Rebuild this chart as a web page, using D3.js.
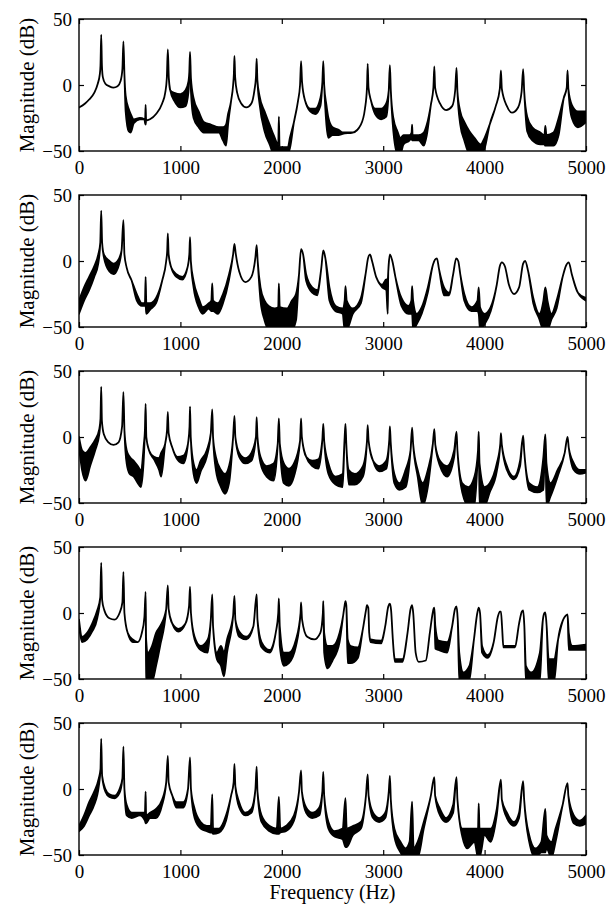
<!DOCTYPE html>
<html>
<head>
<meta charset="utf-8">
<script src="https://cdn.jsdelivr.net/npm/d3@7"></script>
<style>
  body { margin: 0; background: #fff; }
  svg { display: block; }
  text { font-family: "Liberation Serif", "Times New Roman", serif; fill: #000; }
</style>
</head>
<body>
<div id="chart"></div>
<script>
// tick values
const xTicks = [0, 1000, 2000, 3000, 4000, 5000];
const yTicks = [-50, 0, 50];

// magnitude responses, [freq (Hz), upper dB, lower dB]; one value = thin line
const resp1 = [[0,-17],[60,-14],[100,-11],[150,-6],[185,1],[205,8],[212,15],[219,38],[226,15],[235,6],[260,1],[300,-1],[340,-2],[380,-1],[410,3],[428,12],[438,33],[448,8],[460,-8,-20],[490,-18,-35],[510,-22,-36],[540,-26,-29],[600,-25,-26],[645,-26],[652,-27,-29],[657,-15,-30],[662,-27],[700,-26],[760,-22],[820,-14],[850,-6],[866,5],[876,27],[886,5],[900,-4],[940,-6,-12],[1000,-7,-17],[1050,-4,-16],[1080,3,-5],[1088,10],[1095,25],[1104,5,-5],[1130,-10,-25],[1180,-20,-32],[1230,-28,-36],[1300,-30,-36],[1380,-32,-36],[1420,-32,-42],[1450,-30,-46],[1470,-22,-30],[1500,-12],[1520,0],[1527,8],[1533,22],[1540,6],[1560,-6],[1600,-14],[1650,-17],[1700,-14],[1730,-4],[1745,6],[1752,20],[1759,4],[1780,-8,-14],[1830,-20,-35],[1880,-30,-45],[1920,-38,-52],[1965,-45,-52],[1971,-24,-52],[1978,-47,-52],[2060,-47,-52],[2080,-40,-48],[2120,-28],[2160,-12],[2180,0],[2190,18],[2200,2],[2230,-12],[2280,-18,-20],[2330,-18,-22],[2380,-10,-16],[2400,2],[2409,18],[2418,0],[2440,-15,-30],[2460,-25,-40],[2500,-32,-38],[2560,-34,-38],[2600,-36,-37],[2700,-36],[2780,-30],[2820,-18],[2840,-2],[2847,16],[2855,-2],[2880,-12],[2920,-18,-22],[2980,-18,-26],[3030,-14,-24],[3055,-4],[3066,15],[3075,-4],[3100,-25,-35],[3140,-35,-52],[3170,-40,-52],[3200,-38,-45],[3260,-38,-42],[3280,-36,-40],[3285,-30,-42],[3290,-38,-42],[3350,-38,-42],[3400,-36,-46],[3430,-30,-38],[3470,-15],[3495,-2],[3504,14],[3512,-2],[3560,-14],[3620,-19],[3680,-16],[3710,-4],[3723,13],[3732,-5],[3760,-20,-30],[3800,-28,-42],[3850,-35,-52],[3900,-40,-52],[3960,-45,-52],[4000,-40,-48],[4050,-30],[4110,-16],[4150,-3],[4161,11],[4170,-3],[4220,-16],[4270,-21],[4330,-17],[4365,-5],[4380,12],[4390,-4],[4420,-24,-35],[4470,-32,-42],[4550,-36,-45],[4590,-38,-45],[4599,-31,-46],[4610,-38,-46],[4680,-36,-46],[4730,-25,-38],[4780,-10],[4810,-2],[4818,11],[4826,-3],[4860,-15,-25],[4920,-20,-32],[5000,-20,-28]];

const resp2 = [[0,-30,-40],[50,-20,-30],[100,-12,-22],[150,-4,-12],[190,5,-2],[210,14],[219,38],[228,14],[245,5,3],[300,0,-8],[340,-2,-10],[380,0,-6],[420,8],[438,31],[448,5],[470,-5],[520,-15],[570,-25,-30],[620,-32,-34],[650,-32,-34],[657,-12,-34],[664,-32,-40],[700,-32,-37],[760,-28,-32],[820,-15],[860,0],[870,8],[876,21],[884,5],[910,-5],[960,-10,-12],[1020,-12,-14],[1070,-5],[1088,5],[1095,18],[1103,0],[1130,-15,-20],[1180,-28,-35],[1220,-35,-40],[1280,-32,-36],[1305,-30,-38],[1314,-17,-38],[1322,-30,-38],[1370,-32,-40],[1420,-25,-32],[1480,-10,-14],[1520,5],[1533,13],[1545,6],[1580,-8],[1640,-16],[1700,-12],[1740,3],[1752,12],[1762,0],[1790,-20,-30],[1830,-30,-45],[1870,-34,-52],[1930,-36,-52],[1965,-35,-52],[1971,-17,-52],[1980,-35,-52],[2050,-36,-52],[2100,-30,-52],[2140,-25,-45],[2170,-10],[2190,9],[2210,5],[2240,-10,-15],[2300,-20,-24],[2350,-22,-26],[2390,-5],[2409,8],[2430,2],[2470,-20,-30],[2530,-34,-38],[2600,-36,-40],[2620,-30,-52],[2628,-19,-52],[2640,-30,-52],[2700,-36,-40],[2780,-28,-32],[2830,-8],[2850,2],[2870,5],[2890,0],[2930,-12],[2990,-18,-20],[3030,-14,-22],[3045,-14,-40],[3050,-8],[3066,5],[3090,0],[3120,-12],[3180,-28,-34],[3250,-34,-40],[3278,-30,-40],[3285,-19,-40],[3295,-30,-52],[3330,-40,-48],[3380,-35,-40],[3440,-20,-24],[3490,-3],[3510,1],[3530,2],[3550,-6],[3600,-20,-26],[3650,-24,-26],[3690,-10],[3720,2],[3740,0],[3760,-10],[3800,-25,-30],[3870,-35,-38],[3930,-30,-38],[3942,-20,-40],[3955,-35,-52],[4000,-40,-48],[4060,-35,-38],[4120,-18],[4150,-4],[4170,-1],[4200,-4],[4240,-18],[4290,-25],[4340,-20],[4380,-2],[4400,0],[4430,-8],[4480,-28,-32],[4540,-40,-44],[4580,-30,-52],[4599,-20,-52],[4620,-30,-52],[4660,-40,-44],[4710,-30,-36],[4770,-12],[4800,-4],[4830,-1],[4860,-10],[4920,-24],[5000,-28,-30]];

const resp3 = [[0,0,-8],[30,-10,-25],[65,-12,-33],[110,-8,-22],[160,-2,-10],[200,6,2],[212,14],[219,38],[226,12],[245,2],[290,-4],[340,-6],[390,-4],[425,8],[438,34],[448,5],[470,-10,-20],[500,-15,-28],[540,-18,-30],[580,-22,-35],[610,-25,-38],[640,-5,-15],[650,5],[657,25],[664,0],[690,-10],[740,-15,-17],[790,-16,-25],[810,-12,-30],[850,-5],[868,5],[876,19],[884,3],[920,-8],[970,-15,-17],[1030,-14,-20],[1075,-5],[1090,8],[1095,23],[1102,0],[1130,-20,-28],[1160,-25,-35],[1200,-18,-26],[1260,-10,-15],[1300,3],[1314,21],[1322,0],[1350,-15,-25],[1400,-25,-38],[1440,-28,-43],[1480,-22,-35],[1520,0],[1533,16],[1542,0],[1580,-12,-15],[1640,-16,-20],[1700,-12,-18],[1745,0],[1752,15],[1760,0],[1790,-15,-20],[1850,-22,-30],[1920,-20,-33],[1960,-5],[1971,14],[1980,-5],[2020,-20,-35],[2070,-24,-37],[2120,-20,-30],[2180,-3],[2190,14],[2198,0],[2240,-15],[2300,-18,-22],[2360,-17,-24],[2400,-2],[2409,10],[2418,-3],[2460,-20,-28],[2530,-30,-36],[2600,-28,-38],[2620,0],[2628,10],[2636,-5],[2660,-25,-36],[2720,-28,-36],[2800,-22,-30],[2840,-3],[2847,9],[2856,-3],[2900,-18],[2960,-22,-26],[3030,-18,-24],[3060,-2],[3066,8],[3074,-4],[3110,-28,-35],[3160,-35,-40],[3220,-25,-38],[3270,-10],[3285,7],[3295,-5],[3340,-25,-30],[3390,-35,-52],[3440,-25,-38],[3490,-5],[3504,6],[3514,-6],[3560,-18,-22],[3630,-22,-30],[3700,-10,-15],[3723,4],[3732,-10],[3780,-35,-42],[3840,-38,-52],[3900,-30,-52],[3935,-10],[3942,4],[3950,-20,-52],[4000,-38,-52],[4050,-35,-42],[4120,-20,-26],[4155,-5],[4161,3],[4170,-6],[4220,-22,-25],[4290,-30,-32],[4350,-18,-22],[4380,1],[4390,-10],[4440,-35,-40],[4520,-38,-42],[4580,-15,-40],[4599,2],[4610,-20,-52],[4650,-35,-45],[4720,-25,-30],[4790,-12],[4818,0],[4830,-8],[4880,-20,-25],[4940,-25,-28],[5000,-25,-27]];

const resp4 = [[0,-5,-10],[30,-18,-22],[80,-15,-20],[130,-8,-14],[180,2,-4],[210,12],[219,38],[228,10],[250,2],[300,-4],[350,-5],[400,0],[428,8],[438,31],[448,0],[480,-15],[530,-20,-22],[580,-22],[620,-15],[645,-3],[657,16],[662,-20,-52],[680,-30,-52],[720,-25,-52],[760,-15,-40],[800,-10,-25],[860,3],[876,21],[884,3],[920,-8],[980,-12,-14],[1050,-8],[1085,5],[1095,20],[1104,0],[1140,-18,-20],[1200,-25,-28],[1270,-20,-30],[1300,-5],[1314,14],[1322,-10],[1360,-30,-35],[1400,-25,-40],[1430,-30,-48],[1460,-20,-30],[1520,-2],[1533,13],[1542,-5],[1580,-14,-18],[1650,-18,-20],[1720,-10],[1752,14],[1760,-5],[1800,-22,-26],[1880,-28,-30],[1940,-15],[1965,0],[1971,11],[1980,-10,-25],[2020,-30,-40],[2070,-30,-38],[2140,-20,-25],[2185,0],[2190,8],[2200,-5],[2250,-18],[2320,-20],[2380,-15],[2405,0],[2409,9],[2418,-15,-30],[2450,-25,-42],[2500,-25,-36],[2570,-15,-22],[2605,-2],[2620,6],[2628,9],[2636,6],[2650,-20,-38],[2680,-25,-38],[2750,-26,-34],[2800,-12],[2830,2],[2840,6],[2847,5],[2853,4],[2862,-15],[2875,-20,-22],[2980,-21,-23],[3020,-10],[3050,5],[3066,7],[3078,2],[3095,-20],[3115,-35,-37],[3190,-35,-37],[3240,-15],[3270,3],[3285,6],[3296,0],[3320,-30],[3350,-37],[3420,-36],[3460,-15],[3488,0],[3496,3],[3504,4],[3514,-10,-27],[3545,-21,-28],[3630,-22,-30],[3680,-10],[3708,3],[3723,5],[3735,-5],[3750,-30,-52],[3790,-45,-52],[3850,-40,-50],[3895,-20],[3928,0],[3942,4],[3955,0],[3975,-25,-30],[4030,-32,-34],[4090,-22],[4130,-3],[4150,1],[4161,1],[4172,-10],[4185,-25,-26],[4300,-25,-26],[4340,-8],[4367,1],[4380,2],[4392,-10],[4407,-40,-52],[4460,-45,-52],[4545,-30,-50],[4575,-5],[4590,0],[4599,0.5],[4612,-10],[4632,-35,-52],[4685,-35,-52],[4725,-20],[4775,-5],[4800,-2],[4818,-1],[4830,-15,-28],[4865,-25,-28],[5000,-24,-28]];

const resp5 = [[0,-28,-32],[50,-20,-28],[100,-10,-20],[150,-2,-12],[195,8,2],[212,15],[219,38],[228,10],[260,0,-2],[300,-4,-6],[350,-5,-7],[400,0,-3],[428,8],[438,32],[448,0],[470,-12,-20],[520,-18,-22],[600,-18,-20],[650,-18,-24],[657,-2,-26],[662,-20,-26],[700,-18,-22],[760,-15,-22],[820,-8,-12],[860,5],[876,25],[884,5],[920,-5],[960,-10,-14],[1030,-10,-14],[1075,0],[1095,24],[1104,0],[1140,-15,-22],[1200,-25,-30],[1260,-28,-32],[1300,-28,-33],[1314,-4,-33],[1322,-30,-34],[1380,-30,-33],[1450,-20,-24],[1500,-5],[1525,5],[1533,19],[1542,2],[1580,-10,-14],[1640,-18,-20],[1700,-15,-18],[1740,0],[1752,17],[1760,-2],[1800,-20,-25],[1880,-28,-32],[1950,-30,-34],[1971,-6,-34],[1985,-30,-33],[2040,-28,-32],[2120,-20,-24],[2170,-2],[2190,14],[2198,-2],[2240,-14,-18],[2300,-18,-22],[2370,-14,-20],[2400,-2],[2409,13],[2418,-5],[2460,-25,-30],[2520,-32,-36],[2600,-30,-38],[2628,-7,-44],[2640,-30,-44],[2700,-28,-35],[2780,-25,-30],[2830,-5],[2847,11],[2856,-5],[2900,-18,-22],[2960,-22,-25],[3020,-18,-22],[3055,-2],[3066,10],[3075,-8],[3110,-30,-36],[3170,-40,-48],[3220,-45,-52],[3260,-40,-52],[3285,-9.5,-52],[3300,-45,-52],[3340,-40,-52],[3400,-25,-30],[3470,-5],[3504,9],[3512,-5],[3560,-15,-20],[3620,-22,-25],[3690,-12,-18],[3723,9],[3732,-8],[3780,-30,-36],[3830,-30,-45],[3900,-30,-40],[3935,-30,-52],[3942,-11,-52],[3950,-30,-52],[4000,-30,-35],[4060,-30,-40],[4120,-15,-20],[4161,7],[4170,-8],[4220,-18,-22],[4290,-25,-28],[4340,-18,-22],[4380,6],[4390,-8],[4440,-35,-40],[4500,-45,-52],[4560,-40,-48],[4599,-15,-48],[4610,-35,-45],[4660,-40,-52],[4700,-30,-40],[4770,-12],[4818,4.5],[4826,-5],[4880,-20,-26],[4940,-24,-28],[5000,-20,-26]];

const panels = [resp1, resp2, resp3, resp4, resp5];

const width = 609;
const height = 906;
const plot = { left: 79, right: 586, top: 19, step: 176, height: 132 };

const svg = d3.select('#chart')
    .append('svg')
    .attr('width', width)
    .attr('height', height);

svg.append('rect').attr('width', width).attr('height', height).attr('fill', '#fff');

const x = d3.scaleLinear()
    .domain([0, 5000])
    .range([plot.left, plot.right]);

const fmt = d3.format('d');

panels.forEach((data, i) => {
    const top = plot.top + i * plot.step;
    const bottom = top + plot.height;

    const y = d3.scaleLinear()
        .domain([-50, 50])
        .range([bottom, top]);

    const g = svg.append('g');

    g.append('clipPath')
        .attr('id', `clip${i}`)
        .append('rect')
        .attr('x', plot.left)
        .attr('y', top)
        .attr('width', plot.right - plot.left)
        .attr('height', plot.height);

    const area = d3.area()
        .curve(d3.curveMonotoneX)
        .x(d => x(d[0]))
        .y0(d => y(d.length > 2 ? d[2] : d[1]))
        .y1(d => y(d[1]));

    g.append('path')
        .datum(data)
        .attr('clip-path', `url(#clip${i})`)
        .attr('d', area)
        .attr('fill', '#000')
        .attr('stroke', '#000')
        .attr('stroke-width', 1.8)
        .attr('stroke-linejoin', 'round');

    // axes, ticks pointing inward
    const bottomAxis = g.append('g')
        .attr('transform', `translate(0, ${bottom})`)
        .call(d3.axisBottom(x).tickValues(xTicks).tickFormat(fmt).tickSizeInner(-5).tickSizeOuter(0).tickPadding(10));
    const topAxis = g.append('g')
        .attr('transform', `translate(0, ${top})`)
        .call(d3.axisTop(x).tickValues(xTicks).tickSizeInner(-5).tickSizeOuter(0).tickFormat(''));
    const leftAxis = g.append('g')
        .attr('transform', `translate(${plot.left}, 0)`)
        .call(d3.axisLeft(y).tickValues(yTicks).tickFormat(fmt).tickSizeInner(-5).tickSizeOuter(0).tickPadding(7));
    const rightAxis = g.append('g')
        .attr('transform', `translate(${plot.right}, 0)`)
        .call(d3.axisRight(y).tickValues(yTicks).tickSizeInner(-5).tickSizeOuter(0).tickFormat(''));

    [bottomAxis, topAxis, leftAxis, rightAxis].forEach(a => {
        a.attr('font-family', null).attr('font-size', 19);
        a.select('.domain').remove();
        a.selectAll('line').attr('stroke', '#000').attr('stroke-width', 1.2);
        a.selectAll('text').attr('fill', '#000');
    });

    g.append('rect')
        .attr('x', plot.left)
        .attr('y', top)
        .attr('width', plot.right - plot.left)
        .attr('height', plot.height)
        .attr('fill', 'none')
        .attr('stroke', '#000')
        .attr('stroke-width', 1.4);

    g.append('text')
        .attr('transform', `translate(27, ${top + plot.height / 2}) rotate(-90)`)
        .attr('text-anchor', 'middle')
        .attr('dy', '0.35em')
        .attr('font-size', 21)
        .text('Magnitude (dB)');
});

svg.append('text')
    .attr('x', (plot.left + plot.right) / 2)
    .attr('y', 899)
    .attr('text-anchor', 'middle')
    .attr('font-size', 20)
    .text('Frequency (Hz)');
</script>
</body>
</html>
